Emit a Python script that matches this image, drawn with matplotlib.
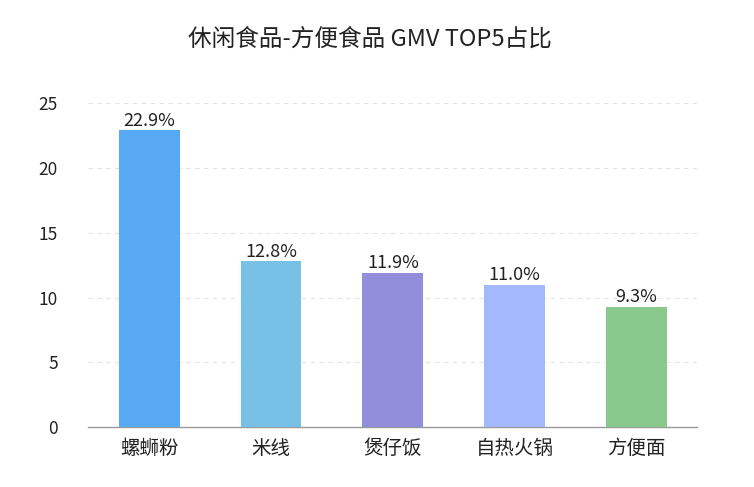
import matplotlib.pyplot as plt
import numpy as np

plt.rcParams['font.family'] = ['Noto Sans CJK SC', 'DejaVu Sans']

# data
categories = ['螺蛳粉', '米线', '煲仔饭', '自热火锅', '方便面']
shares = [22.9, 12.8, 11.9, 11.0, 9.3]
bar_colors = ['#58a9f4', '#78c1e6', '#928edb', '#a2b9fb', '#89c98b']
y_ticks = [0, 5, 10, 15, 20, 25]

fig = plt.figure(figsize=(7.54, 4.87), dpi=100)
ax = fig.add_axes([0.117, 0.123, 0.808, 0.665])

x = np.arange(len(categories))
bars = ax.bar(x, shares, width=0.5, color=bar_colors, zorder=3)

for b, v in zip(bars, shares):
    ax.text(b.get_x() + b.get_width() / 2, v + 0.05, f'{v:.1f}%',
            ha='center', va='bottom', fontsize=13, color='#222222')

ax.set_xlim(-0.5, len(categories) - 0.5)
ax.set_ylim(0, 25)
ax.set_yticks(y_ticks)
ax.set_xticks(x)
ax.set_xticklabels(categories, fontsize=14, color='#222222')
ax.tick_params(axis='y', labelsize=12.5, colors='#222222', length=0, pad=22)
ax.tick_params(axis='x', length=0, pad=8)

ax.grid(axis='y', linestyle=(0, (4, 4)), color='#e3e3e3', linewidth=0.8, zorder=0)
for s in ['top', 'right', 'left']:
    ax.spines[s].set_visible(False)
ax.spines['bottom'].set_color('#999999')
ax.spines['bottom'].set_linewidth(1)

fig.text(0.49, 0.92, '休闲食品-方便食品 GMV TOP5占比', fontsize=17,
         ha='center', va='center', color='#222222')

fig.savefig('out.png', dpi=100)
